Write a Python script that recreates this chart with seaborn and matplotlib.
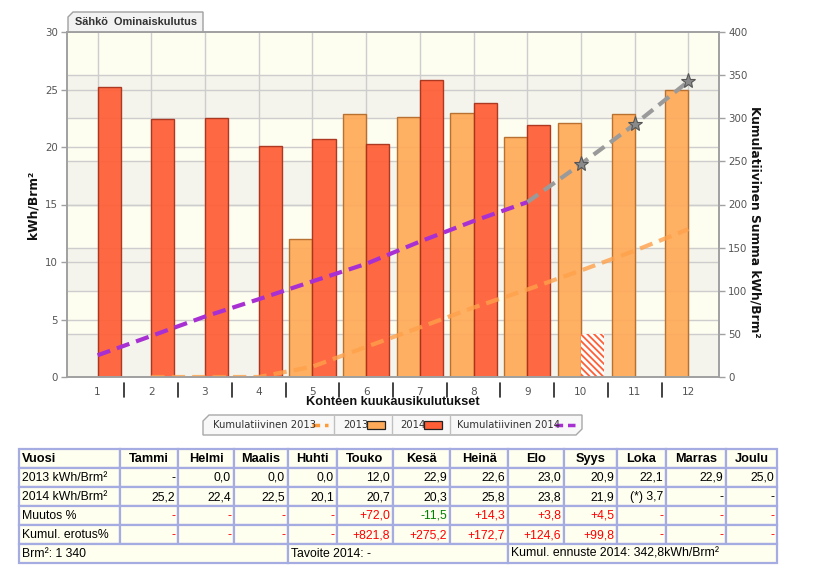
import numpy as np
import pandas as pd
import matplotlib
matplotlib.use("Agg")
import matplotlib.pyplot as plt
from matplotlib.patches import Rectangle, Polygon
from matplotlib.lines import Line2D
import matplotlib.transforms as mtransforms
import seaborn as sns

# ---------------- data ----------------
months = [str(i) for i in range(1, 13)]
month_names = ["Tammi", "Helmi", "Maalis", "Huhti", "Touko", "Kesä",
               "Heinä", "Elo", "Syys", "Loka", "Marras", "Joulu"]
v2013 = [np.nan, 0.0, 0.0, 0.0, 12.0, 22.9, 22.6, 23.0, 20.9, 22.1, 22.9, 25.0]
v2014 = [25.2, 22.4, 22.5, 20.1, 20.7, 20.3, 25.8, 23.8, 21.9, 3.7, np.nan, np.nan]
partial_month = "10"          # 2014 value for this month is incomplete (hatched)
cum2013 = [np.nan, 0.0, 0.0, 0.0, 12.0, 34.9, 57.5, 80.5, 101.4, 123.5, 146.4, 171.4]
cum2014 = [25.2, 47.6, 70.1, 90.2, 110.9, 131.2, 157.0, 180.8, 202.7, np.nan, np.nan, np.nan]
forecast2014 = [np.nan] * 8 + [202.7, 247.0, 293.0, 342.8]
muutos = [None, None, None, None, 72.0, -11.5, 14.3, 3.8, 4.5, None, None, None]
kumul_erotus = [None, None, None, None, 821.8, 275.2, 172.7, 124.6, 99.8, None, None, None]
left_ticks = [0, 5, 10, 15, 20, 25, 30]
right_ticks = [0, 50, 100, 150, 200, 250, 300, 350, 400]

title = "Sähkö  Ominaiskulutus"
xlabel = "Kohteen kuukausikulutukset"
ylabel_left = "kWh/Brm²"
ylabel_right = "Kumulatiivinen Summa kWh/Brm²"
legend_labels = ["Kumulatiivinen 2013", "2013", "2014", "Kumulatiivinen 2014"]
footer = ["Brm²: 1 340", "Tavoite 2014: -", "Kumul. ennuste 2014: 342,8kWh/Brm²"]

# ---------------- style ----------------
C13 = "#FFAA58"; C13E = "#B46A28"
C14 = "#FF5E36"; C14E = "#A8301A"
CPUR = "#A830D2"; CGRAY = "#9A9A9A"
TICKC = "#555555"; SPINEC = "#A0A0A0"; GRIDC = "#CDCDCD"
BG = "#FDFDF0"; BAND = "#F4F4EC"

sns.set_theme(style="white")
plt.rcParams["font.family"] = ["DejaVu Sans"]
plt.rcParams["hatch.linewidth"] = 1.3

W, H = 813, 585
fig = plt.figure(figsize=(W / 100, H / 100), dpi=100)
fig.patch.set_facecolor("white")

def fx(x):
    return x / W

def fy(y):
    return 1 - y / H

L, R, T, B = 67, 719, 32, 377
ax = fig.add_axes([fx(L), fy(B), (R - L) / W, (B - T) / H])
ax2 = ax.twinx()
ax.set_zorder(1)
ax2.set_zorder(2)
ax2.patch.set_visible(False)

lmax, rmax = left_ticks[-1], right_ticks[-1]
ax.set_ylim(0, lmax)
ax2.set_ylim(0, rmax)

# background bands & grid (drawn on lower axes so they stay behind bars)
ax.set_facecolor(BG)
scale = lmax / rmax
for i in range(0, len(right_ticks) - 1, 2):
    ax.axhspan(right_ticks[i] * scale, right_ticks[i + 1] * scale,
               color=BAND, zorder=0, lw=0)
for t in right_ticks[1:-1]:
    ax.axhline(t * scale, color=GRIDC, lw=1.0, zorder=0.5)
for t in left_ticks[1:-1]:
    ax.axhline(t, color=GRIDC, lw=1.0, zorder=0.5)

# ---------------- bars ----------------
df = pd.DataFrame({
    "Kuukausi": months * 2,
    "Vuosi": ["2013"] * 12 + ["2014"] * 12,
    "Arvo": v2013 + v2014,
})
sns.barplot(data=df, x="Kuukausi", y="Arvo", hue="Vuosi", order=months,
            hue_order=["2013", "2014"], palette={"2013": C13, "2014": C14},
            width=0.86, gap=0, saturation=1, legend=False, ax=ax, zorder=2,
            err_kws={"linewidth": 0}, alpha=0.93)
for cont, ec in zip(ax.containers, [C13E, C14E]):
    for p in cont:
        p.set_edgecolor(ec)
        p.set_linewidth(1.0)
# mark the incomplete month as hatched
pidx = months.index(partial_month)
for p in ax.containers[1]:
    cx = p.get_x() + p.get_width() / 2
    if abs(cx - pidx) < 0.5:
        p.set_facecolor("white")
        p.set_alpha(1)
        p.set_edgecolor(C14)
        p.set_hatch("\\\\\\\\\\")
        p.set_linewidth(0)

ax.set_xlim(-0.57, 11.57)
ax.grid(axis="x", color=GRIDC, lw=1.0)
ax.set_axisbelow(True)

# ---------------- cumulative lines ----------------
xpos = np.arange(12)
sns.lineplot(x=xpos, y=cum2013, ax=ax2, color="#FFA04A", lw=3.0, alpha=0.8)
sns.lineplot(x=xpos, y=forecast2014, ax=ax2, color=CGRAY, lw=3.0,
             marker="*", markersize=11, markerfacecolor="#8A8A8A",
             markeredgecolor="#555555", markeredgewidth=0.8,
             markevery=[1, 2, 3])
sns.lineplot(x=xpos, y=cum2014, ax=ax2, color=CPUR, lw=3.0)
for ln in ax2.lines:
    ln.set_dashes([3.2, 1.7])
    ln.set_dash_capstyle("butt")

# ---------------- axes decoration ----------------
for a in (ax, ax2):
    for s in a.spines.values():
        s.set_color(SPINEC)
        s.set_linewidth(1.2)
ax.set_yticks(left_ticks)
ax.set_yticklabels([str(t) for t in left_ticks])
ax2.set_yticks(right_ticks)
ax2.set_yticklabels([str(t) for t in right_ticks])
ax.tick_params(axis="y", length=4, width=1, color=SPINEC, labelcolor=TICKC,
               labelsize=7.4, pad=2.5, left=True)
ax2.tick_params(axis="y", length=4, width=1, color=SPINEC, labelcolor=TICKC,
                labelsize=7.4, pad=2.5, right=True)
ax.set_xticks(xpos)
ax.set_xticklabels(months)
ax.tick_params(axis="x", length=0, labelcolor=TICKC, labelsize=7.6, pad=7)
ax.set_xlabel("")
ax.set_ylabel("")
ax2.set_ylabel("")

# detached separators under the x-axis between categories
trans = mtransforms.blended_transform_factory(ax.transData, ax.transAxes)
for b in np.arange(0.5, 11.5, 1.0):
    ax.add_line(Line2D([b, b], [-0.018, -0.058], transform=trans,
                       color="#222222", lw=1.2, clip_on=False))

fig.text(fx(393), fy(402), xlabel, ha="center", va="center",
         fontsize=9.2, fontweight="bold", color="#111111",
         family=["Liberation Sans", "DejaVu Sans"])
fig.text(fx(33), fy(205), ylabel_left, ha="center", va="center",
         rotation=90, fontsize=8.8, fontweight="bold", color="#111111")
fig.text(fx(755), fy(222), ylabel_right, ha="center", va="center",
         rotation=270, fontsize=8.8, fontweight="bold", color="#111111")

# ---------------- title tab ----------------
tab = Polygon([(fx(68), fy(32)), (fx(68), fy(17)), (fx(73), fy(12)),
               (fx(203), fy(12)), (fx(203), fy(32))], closed=True,
              transform=fig.transFigure, facecolor="#F2F2F2",
              edgecolor="#A0A0A0", lw=1.0)
fig.patches.append(tab)
fig.text(fx(75), fy(22), title, ha="left", va="center", fontsize=7.9,
         fontweight="bold", color="#333333",
         family=["Liberation Sans", "DejaVu Sans"])

# ---------------- legend box ----------------
lg = Polygon([(fx(203), fy(435)), (fx(203), fy(421)), (fx(209), fy(415)),
              (fx(582), fy(415)), (fx(582), fy(429)), (fx(576), fy(435))],
             closed=True, transform=fig.transFigure, facecolor="#F8F8F8",
             edgecolor="#A8A8A8", lw=1.0)
fig.patches.append(lg)
for sx in (334, 392, 450):
    fig.add_artist(Line2D([fx(sx), fx(sx)], [fy(416), fy(434)],
                          transform=fig.transFigure, color="#C0C0C0", lw=1.0))
LGY = 425
lfs = 7.2
fig.text(fx(213), fy(LGY), legend_labels[0], ha="left", va="center",
         fontsize=lfs, color="#333333")
fig.add_artist(Line2D([fx(312), fx(328)], [fy(LGY), fy(LGY)],
                      transform=fig.transFigure, color="#FF9A3A", lw=2.5,
                      dashes=[2.2, 1.4]))
fig.text(fx(343), fy(LGY), legend_labels[1], ha="left", va="center",
         fontsize=lfs, color="#333333")
fig.patches.append(Rectangle((fx(367), fy(429)), fx(18), 8 / H,
                             transform=fig.transFigure, facecolor=C13,
                             edgecolor="#222222", lw=0.9))
fig.text(fx(400), fy(LGY), legend_labels[2], ha="left", va="center",
         fontsize=lfs, color="#333333")
fig.patches.append(Rectangle((fx(424), fy(429)), fx(18), 8 / H,
                             transform=fig.transFigure, facecolor=C14,
                             edgecolor="#222222", lw=0.9))
fig.text(fx(457), fy(LGY), legend_labels[3], ha="left", va="center",
         fontsize=lfs, color="#333333")
fig.add_artist(Line2D([fx(555), fx(575)], [fy(LGY), fy(LGY)],
                      transform=fig.transFigure, color=CPUR, lw=2.5,
                      dashes=[2.2, 1.4]))

# ---------------- table ----------------
col_edges = [19, 120, 178, 234, 288, 337, 393, 450, 508, 564, 617, 666, 726, 777]
row_edges = [449, 468, 487, 506, 525, 544, 563]
TBORDER = "#A4ACE2"
TBG = "#FFFFF0"
TFONT = ["Liberation Sans", "DejaVu Sans"]
tfs = 8.8


def cell(x0, x1, y0, y1):
    fig.patches.append(Rectangle((fx(x0), fy(y1)), (x1 - x0) / W, (y1 - y0) / H,
                                 transform=fig.transFigure, facecolor=TBG,
                                 edgecolor=TBORDER, lw=1.6))


def ctext(s, x0, x1, y0, y1, align="right", color="black", bold=False):
    if align == "right":
        x, ha = x1 - 3, "right"
    elif align == "left":
        x, ha = x0 + 3, "left"
    else:
        x, ha = (x0 + x1) / 2, "center"
    fig.text(fx(x), fy((y0 + y1) / 2 + 0.5), s, ha=ha, va="center",
             fontsize=tfs + (0.4 if bold else 0), color=color, family=TFONT,
             fontweight="bold" if bold else "normal")


def fmt(v):
    return "-" if (v is None or (isinstance(v, float) and np.isnan(v))) else f"{v:.1f}".replace(".", ",")


def fmt_signed(v):
    return "-" if v is None else (f"+{v:.1f}" if v > 0 else f"{v:.1f}").replace(".", ",")


row_labels = ["2013 kWh/Brm²", "2014 kWh/Brm²", "Muutos %", "Kumul. erotus%"]
rows = [
    [(fmt(v), "black") for v in v2013],
    [(("(*) " + fmt(v)) if m == partial_month else fmt(v), "black")
     for m, v in zip(months, v2014)],
    [(fmt_signed(v), "#008000" if (v is not None and v < 0) else "#FF0000")
     for v in muutos],
    [(fmt_signed(v), "#008000" if (v is not None and v < 0) else "#FF0000")
     for v in kumul_erotus],
]

# header
y0, y1 = row_edges[0], row_edges[1]
cell(col_edges[0], col_edges[1], y0, y1)
ctext("Vuosi", col_edges[0], col_edges[1], y0, y1, align="left", bold=True)
for j, name in enumerate(month_names):
    cell(col_edges[j + 1], col_edges[j + 2], y0, y1)
    ctext(name, col_edges[j + 1], col_edges[j + 2], y0, y1, align="center", bold=True)

for r, (lab, vals) in enumerate(zip(row_labels, rows)):
    y0, y1 = row_edges[r + 1], row_edges[r + 2]
    cell(col_edges[0], col_edges[1], y0, y1)
    ctext(lab, col_edges[0], col_edges[1], y0, y1, align="left")
    for j, (s, c) in enumerate(vals):
        cell(col_edges[j + 1], col_edges[j + 2], y0, y1)
        ctext(s, col_edges[j + 1], col_edges[j + 2], y0, y1, color=c)

# footer
y0, y1 = row_edges[5], row_edges[6]
spans = [(col_edges[0], col_edges[4]), (col_edges[4], col_edges[8]),
         (col_edges[8], col_edges[13])]
for s, (x0, x1) in zip(footer, spans):
    cell(x0, x1, y0, y1)
    ctext(s, x0, x1, y0, y1, align="left")

fig.savefig("out.png", dpi=100)
